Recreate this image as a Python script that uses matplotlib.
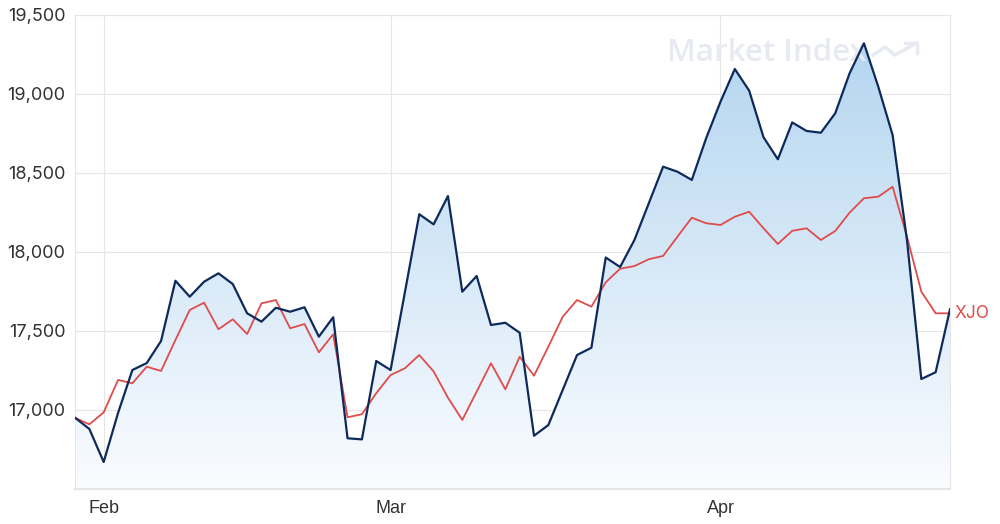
import matplotlib.pyplot as plt
import numpy as np
from matplotlib.patches import Polygon

# daily closes, index 0 = first trading day on the chart
stock = [16951, 16880, 16671, 16981, 17253, 17297, 17437, 17818, 17717, 17812,
         17865, 17797, 17612, 17559, 17647, 17622, 17650, 17464, 17587, 16821,
         16814, 17310, 17253, 17746, 18239, 18175, 18354, 17749, 17848, 17538,
         17552, 17489, 16837, 16905, 17127, 17348, 17394, 17965, 17905, 18076,
         18308, 18540, 18508, 18456, 18720, 18951, 19158, 19021, 18726, 18587,
         18820, 18766, 18755, 18878, 19131, 19321, 19046, 18740, 18076, 17196,
         17239, 17637]
xjo = [16951, 16909, 16985, 17190, 17169, 17274, 17247, 17443, 17633, 17679,
       17511, 17574, 17481, 17675, 17696, 17517, 17544, 17365, 17479, 16954,
       16973, 17106, 17221, 17264, 17348, 17244, 17078, 16937, 17116, 17296,
       17131, 17337, 17217, 17401, 17590, 17696, 17654, 17808, 17894, 17911,
       17954, 17975, 18097, 18217, 18182, 18171, 18223, 18255, 18150, 18051,
       18134, 18150, 18076, 18133, 18249, 18340, 18350, 18413, 18097, 17749,
       17612, 17612]
month_pos = [2, 22, 45]
month_lab = ["Feb", "Mar", "Apr"]
y_ticks = [17000, 17500, 18000, 18500, 19000, 19500]

navy = "#0e2a5a"
red = "#e04b4b"
grid_c = "#e6e6e6"
wm = "#e7eaf0"

fig = plt.figure(figsize=(10, 5.24), dpi=100)
ax = fig.add_axes([0.075, 0.0668, 0.875, 0.9046])
x = np.arange(len(stock))
ymin, ymax = 16500, 19500

# gradient fill under the stock line
top = np.array([176, 211, 239]) / 255
bot = np.array([250, 252, 255]) / 255
t = np.linspace(0, 1, 256)[:, None]
grad = (top * (1 - t) + bot * t)[:, None, :]
img = ax.imshow(grad, extent=[0, len(stock) - 1, ymin, ymax], aspect="auto",
                origin="upper", zorder=1)
verts = [(0, ymin)] + list(zip(x, stock)) + [(len(stock) - 1, ymin)]
poly = Polygon(verts, closed=True, facecolor="none", edgecolor="none")
ax.add_patch(poly)
img.set_clip_path(poly)

ax.plot(x, xjo, color=red, lw=1.3, zorder=3)
ax.plot(x, stock, color=navy, lw=1.6, zorder=4)

ax.set_xlim(0, len(stock) - 1)
ax.set_ylim(ymin, ymax)
ax.set_yticks(y_ticks)
ax.set_yticklabels([f"{v:,}" for v in y_ticks], fontsize=13, color="#333333",
                   family="Inter")
ax.set_xticks(month_pos)
ax.set_xticklabels(month_lab, fontsize=13, color="#333333", family="Liberation Sans")
ax.tick_params(length=0)
ax.tick_params(axis="y", pad=7)
ax.tick_params(axis="x", pad=8)
ax.grid(True, color=grid_c, lw=0.8, zorder=0)
ax.set_axisbelow(True)
for s in ax.spines.values():
    s.set_color(grid_c)
    s.set_linewidth(0.8)
ax.spines["bottom"].set_linewidth(1.5)

# series label
ax.text(len(stock) - 0.7, xjo[-1], "XJO", color=red, fontsize=12.5,
        va="center", ha="left", family="Inter", clip_on=False)

# watermark
ax.text(0.6766, 0.92, "Market Index", transform=ax.transAxes, fontsize=22.5,
        fontweight="semibold", color=wm, family="Open Sans", va="center",
        ha="left", zorder=2)
ax.plot([0.912, 0.9257, 0.937, 0.962], [0.9156, 0.9325, 0.9156, 0.941],
        transform=ax.transAxes, color=wm, lw=2.5, zorder=2)
ax.plot([0.9486, 0.962, 0.962], [0.941, 0.941, 0.920],
        transform=ax.transAxes, color=wm, lw=2.5, zorder=2)

fig.savefig("out.png", dpi=100)
